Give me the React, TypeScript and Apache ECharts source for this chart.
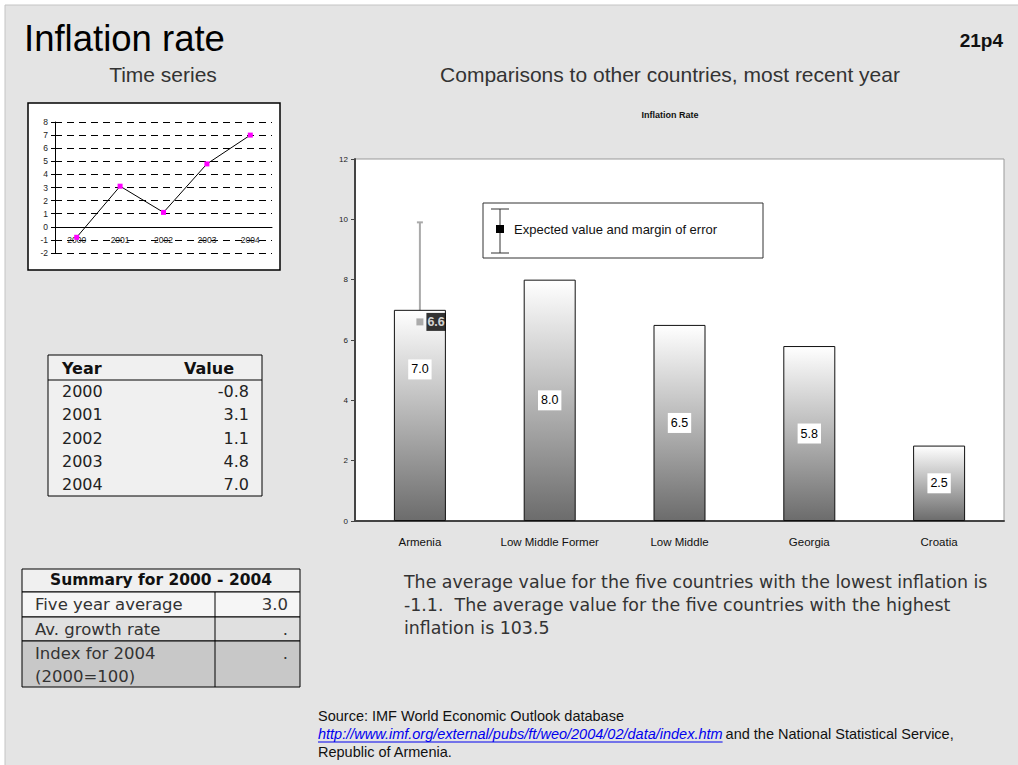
import React, { useEffect, useRef } from 'react';
import * as echarts from 'echarts';

// Time series, 2000-2004
const years = ['2000', '2001', '2002', '2003', '2004'];
const inflationByYear = [-0.8, 3.1, 1.1, 4.8, 7.0];

// Comparison with other countries, most recent year
const countries = ['Armenia', 'Low Middle Former', 'Low Middle', 'Georgia', 'Croatia'];
const countryRates = [7.0, 8.0, 6.5, 5.8, 2.5];

// Expected value and margin of error for Armenia
const armeniaExpected = 6.6;
const armeniaErrorLow = 3.3;
const armeniaErrorHigh = 9.9;

// Summary table
const summaryLabels = ['Five year average', 'Av. growth rate', 'Index for 2004|(2000=100)'];
const summaryValues = ['3.0', '.', '.'];

// Averages quoted in the note
const lowestFiveAverage = -1.1;
const highestFiveAverage = 103.5;

const SANS = '"Liberation Sans", Arial, sans-serif';
const GOTHIC = '"DejaVu Sans", sans-serif';

const measure = (text: string, font: string) => {
  const ctx = document.createElement('canvas').getContext('2d');
  if (!ctx) return text.length * 6.5;
  ctx.font = font;
  return ctx.measureText(text).width;
};

const txt = (
  x: number,
  y: number,
  text: string,
  opts: Record<string, any> = {},
  z = 20
) => ({
  type: 'text',
  x,
  y,
  z,
  silent: true,
  style: {
    text,
    fontFamily: SANS,
    fontSize: 12,
    fill: '#222',
    textAlign: 'left',
    textVerticalAlign: 'middle',
    ...opts,
  },
});

export default function App() {
  const ref = useRef<HTMLDivElement>(null);

  useEffect(() => {
    if (!ref.current) return;
    const chart = echarts.init(ref.current, null, { renderer: 'svg' });

    const graphics: any[] = [];

    // page panel
    graphics.push({
      type: 'rect',
      z: -10,
      shape: { x: 5, y: 5, width: 1020, height: 770 },
      style: { fill: '#e4e4e4', stroke: '#c4c4c4', lineWidth: 1 },
      silent: true,
    });

    // headings
    graphics.push(txt(24, 38, 'Inflation rate', { fontSize: 36.5, fill: '#000' }));
    graphics.push(txt(1003, 40, '21p4', { fontSize: 19, fontWeight: 'bold', fill: '#111', textAlign: 'right' }));
    graphics.push(txt(163, 74, 'Time series', { fontSize: 21, fill: '#333', textAlign: 'center' }));
    graphics.push(
      txt(670, 74, 'Comparisons to other countries, most recent year', {
        fontSize: 21,
        fill: '#333',
        textAlign: 'center',
      })
    );
    graphics.push(txt(670, 115, 'Inflation Rate', { fontSize: 9, fontWeight: 'bold', fill: '#111', textAlign: 'center' }));

    // frame around the small time-series chart
    graphics.push({
      type: 'rect',
      z: -1,
      shape: { x: 28, y: 103, width: 252, height: 167 },
      style: { fill: '#fff', stroke: '#000', lineWidth: 1.5 },
      silent: true,
    });

    // legend box for the error bar
    graphics.push({
      type: 'rect',
      z: 10,
      shape: { x: 483, y: 203, width: 280, height: 55 },
      style: { fill: '#fff', stroke: '#333', lineWidth: 1 },
      silent: true,
    });
    const lx = 500;
    graphics.push({ type: 'line', z: 11, shape: { x1: lx, y1: 209, x2: lx, y2: 253 }, style: { stroke: '#333', lineWidth: 1 } });
    graphics.push({ type: 'line', z: 11, shape: { x1: lx - 9, y1: 209, x2: lx + 9, y2: 209 }, style: { stroke: '#333', lineWidth: 1 } });
    graphics.push({ type: 'line', z: 11, shape: { x1: lx - 9, y1: 253, x2: lx + 9, y2: 253 }, style: { stroke: '#333', lineWidth: 1 } });
    graphics.push({ type: 'rect', z: 12, shape: { x: lx - 4, y: 225, width: 8, height: 8 }, style: { fill: '#000' } });
    graphics.push(txt(514, 229, 'Expected value and margin of error', { fontSize: 13, fill: '#111' }, 12));

    // Year / Value table
    const tX = 48, tY = 355, tW = 214, headH = 25, rowH = 23.2;
    const tH = headH + years.length * rowH;
    graphics.push({
      type: 'rect',
      z: 5,
      shape: { x: tX, y: tY, width: tW, height: tH },
      style: { fill: '#f0f0f0', stroke: '#000', lineWidth: 1 },
      silent: true,
    });
    graphics.push({
      type: 'line',
      z: 6,
      shape: { x1: tX, y1: tY + headH, x2: tX + tW, y2: tY + headH },
      style: { stroke: '#000', lineWidth: 1 },
    });
    graphics.push(txt(62, tY + 13, 'Year', { fontSize: 16, fontWeight: 'bold', fontFamily: GOTHIC, fill: '#111' }));
    graphics.push(txt(234, tY + 13, 'Value', { fontSize: 16, fontWeight: 'bold', fontFamily: GOTHIC, fill: '#111', textAlign: 'right' }));
    years.forEach((yr, i) => {
      const cy = tY + headH + rowH * i + rowH / 2;
      graphics.push(txt(62, cy, yr, { fontSize: 16, fontFamily: GOTHIC, fill: '#222' }));
      graphics.push(
        txt(249, cy, inflationByYear[i].toFixed(1), { fontSize: 16, fontFamily: GOTHIC, fill: '#222', textAlign: 'right' })
      );
    });

    // Summary table
    const sX = 22, sW = 278, colX = 215;
    const rowTops = [569, 592, 617, 641, 687];
    const rowFills = ['#f0f0f0', '#f6f6f6', '#e0e0e0', '#c8c8c8'];
    rowFills.forEach((fill, i) => {
      graphics.push({
        type: 'rect',
        z: 5,
        shape: { x: sX, y: rowTops[i], width: sW, height: rowTops[i + 1] - rowTops[i] },
        style: { fill, stroke: '#000', lineWidth: 1 },
        silent: true,
      });
    });
    graphics.push({
      type: 'line',
      z: 6,
      shape: { x1: colX, y1: rowTops[1], x2: colX, y2: rowTops[4] },
      style: { stroke: '#000', lineWidth: 1 },
    });
    graphics.push(
      txt(161, 580, 'Summary for 2000 - 2004', {
        fontSize: 15.5,
        fontWeight: 'bold',
        fontFamily: GOTHIC,
        fill: '#111',
        textAlign: 'center',
      })
    );
    summaryLabels.forEach((label, i) => {
      const parts = label.split('|');
      const top = rowTops[i + 1];
      parts.forEach((p, j) => {
        graphics.push(txt(35, top + 12 + j * 23, p, { fontSize: 16.5, fontFamily: GOTHIC, fill: '#333' }));
      });
      graphics.push(
        txt(288, top + 12, summaryValues[i], { fontSize: 16.5, fontFamily: GOTHIC, fill: '#333', textAlign: 'right' })
      );
    });

    // Note on the extreme averages
    const note = [
      'The average value for the five countries with the lowest inflation is',
      `${lowestFiveAverage.toFixed(1)}.  The average value for the five countries with the highest`,
      `inflation is ${highestFiveAverage.toFixed(1)}`,
    ];
    note.forEach((line, i) => {
      graphics.push(txt(404, 582 + i * 23, line, { fontSize: 17.4, fontFamily: GOTHIC, fill: '#333' }));
    });

    // Source
    const srcFont = 14.5;
    const link = 'http://www.imf.org/external/pubs/ft/weo/2004/02/data/index.htm';
    const linkW = measure(link, `italic ${srcFont}px "Liberation Sans"`);
    graphics.push(txt(318, 716, 'Source: IMF World Economic Outlook database', { fontSize: srcFont, fill: '#111' }));
    graphics.push(txt(318, 734, link, { fontSize: srcFont, fill: '#0000ee', fontStyle: 'italic' }));
    graphics.push({
      type: 'line',
      z: 20,
      shape: { x1: 318, y1: 742, x2: 318 + linkW, y2: 742 },
      style: { stroke: '#0000ee', lineWidth: 1 },
    });
    graphics.push(
      txt(318 + linkW + 3, 734, 'and the National Statistical Service,', { fontSize: srcFont, fill: '#111' })
    );
    graphics.push(txt(318, 752, 'Republic of Armenia.', { fontSize: srcFont, fill: '#111' }));

    const barGradient = new echarts.graphic.LinearGradient(0, 0, 0, 1, [
      { offset: 0, color: '#ffffff' },
      { offset: 1, color: '#6c6c6c' },
    ]);

    // the small chart's category axis sits on the zero line (0 lies 2/10 of the way up)
    const miniTop = 122, miniHeight = 131;
    const zeroOffset = -miniHeight * (2 / 10);

    chart.setOption({
      animation: false,
      textStyle: { fontFamily: SANS },
      graphic: { elements: graphics },
      grid: [
        {
          left: 355,
          top: 159,
          width: 649,
          height: 362,
          show: true,
          backgroundColor: '#fff',
          borderColor: '#999',
          borderWidth: 1,
        },
        { left: 55, top: miniTop, width: 217, height: miniHeight },
      ],
      xAxis: [
        {
          type: 'category',
          gridIndex: 0,
          data: countries,
          axisLine: { lineStyle: { color: '#444', width: 2 } },
          axisTick: { length: 5, lineStyle: { color: '#444' } },
          axisLabel: { color: '#111', fontSize: 11.5, margin: 15 },
        },
        {
          type: 'category',
          gridIndex: 1,
          data: years,
          position: 'bottom',
          offset: zeroOffset,
          axisLine: { onZero: false, lineStyle: { color: '#000', width: 1 } },
          axisTick: { length: 4, lineStyle: { color: '#000' } },
          axisLabel: { color: '#222', fontSize: 8.5, margin: 9 },
        },
      ],
      yAxis: [
        {
          type: 'value',
          gridIndex: 0,
          min: 0,
          max: 12,
          interval: 2,
          axisLine: { show: true, lineStyle: { color: '#444', width: 2 } },
          axisTick: { show: true, length: 4, lineStyle: { color: '#444' } },
          axisLabel: { fontSize: 8, color: '#222', margin: 7 },
          splitLine: { show: false },
        },
        {
          type: 'value',
          gridIndex: 1,
          min: -2,
          max: 8,
          interval: 1,
          axisLine: { show: true, lineStyle: { color: '#000', width: 1 } },
          axisTick: { show: true, length: 4, lineStyle: { color: '#000' } },
          axisLabel: { fontSize: 8.5, color: '#222', margin: 7 },
          splitLine: { show: true, lineStyle: { type: [7, 5], color: '#000', width: 1 } },
        },
      ],
      series: [
        {
          type: 'bar',
          xAxisIndex: 0,
          yAxisIndex: 0,
          barWidth: 52,
          z: 2,
          data: countryRates.map((v, i) =>
            i === 0 ? { value: v, label: { offset: [0, -46] } } : { value: v }
          ),
          itemStyle: { color: barGradient, borderColor: '#111', borderWidth: 1 },
          label: {
            show: true,
            position: 'inside',
            formatter: (p: any) => Number(p.value).toFixed(1),
            backgroundColor: '#fff',
            color: '#000',
            fontSize: 12.5,
            padding: [4, 3, 3, 3],
          },
        },
        {
          type: 'custom',
          xAxisIndex: 0,
          yAxisIndex: 0,
          z: 2,
          encode: { x: 0, y: [1, 2] },
          data: [[0, armeniaErrorLow, armeniaErrorHigh]],
          renderItem: (_params: any, api: any) => {
            const x = api.value(0);
            const lo = api.coord([x, api.value(1)]);
            const hi = api.coord([x, api.value(2)]);
            const stroke = { stroke: '#aaa', lineWidth: 2 };
            return {
              type: 'group',
              children: [
                { type: 'line', shape: { x1: hi[0], y1: hi[1], x2: lo[0], y2: lo[1] }, style: stroke },
                { type: 'line', shape: { x1: hi[0] - 3, y1: hi[1], x2: hi[0] + 3, y2: hi[1] }, style: stroke },
                { type: 'line', shape: { x1: lo[0] - 3, y1: lo[1], x2: lo[0] + 3, y2: lo[1] }, style: stroke },
              ],
            };
          },
        },
        {
          type: 'scatter',
          xAxisIndex: 0,
          yAxisIndex: 0,
          z: 4,
          symbol: 'rect',
          symbolSize: 7,
          data: [[0, armeniaExpected]],
          itemStyle: { color: '#999' },
          label: {
            show: true,
            position: 'right',
            distance: 3,
            formatter: (p: any) => Number(p.value[1]).toFixed(1),
            backgroundColor: '#000',
            color: '#fff',
            fontWeight: 'bold',
            fontSize: 12.5,
            padding: [3, 1, 2, 1],
          },
        },
        {
          type: 'line',
          xAxisIndex: 1,
          yAxisIndex: 1,
          data: inflationByYear,
          lineStyle: { color: '#000', width: 1 },
          symbol: 'rect',
          symbolSize: 5,
          itemStyle: { color: '#ff00ff' },
        },
      ],
    });

    return () => chart.dispose();
  }, []);

  return (
    <div
      ref={ref}
      style={{ position: 'absolute', left: 0, top: 0, width: 1018, height: 765, background: '#fff' }}
    />
  );
}
